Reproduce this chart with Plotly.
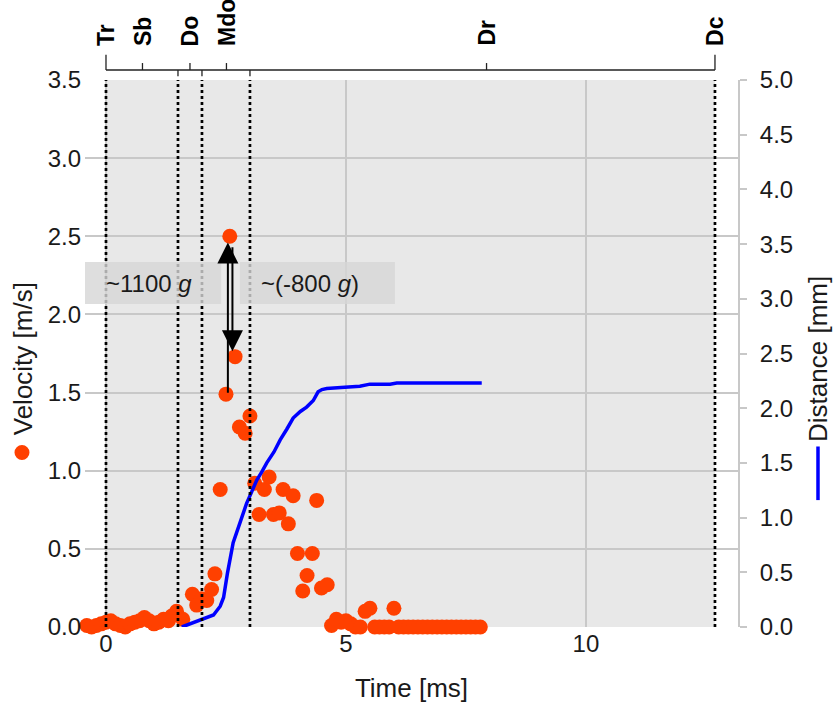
import plotly.graph_objects as go

# ---------------- data ----------------
vel_t = [-0.4, -0.3, -0.2, -0.1, 0.0, 0.1, 0.2, 0.3, 0.4, 0.5, 0.6, 0.7, 0.8, 0.9,
         1.0, 1.1, 1.2, 1.3, 1.37, 1.47, 1.6, 1.8, 1.89, 1.99, 2.1, 2.2, 2.27, 2.38,
         2.5, 2.58, 2.69, 2.78, 2.9, 3.0, 3.1, 3.19, 3.3, 3.4, 3.49, 3.61, 3.69, 3.8,
         3.9, 3.99, 4.1, 4.19, 4.3, 4.39, 4.49, 4.61, 4.7, 4.8, 4.9, 5.0, 5.1, 5.2,
         5.3, 5.4, 5.5, 5.6, 5.7, 5.8, 5.9, 6.0, 6.1, 6.2, 6.3, 6.4, 6.5, 6.6, 6.7,
         6.8, 6.9, 7.0, 7.1, 7.2, 7.3, 7.4, 7.5, 7.6, 7.7, 7.8]
vel_v = [0.01, 0.0, 0.01, 0.02, 0.03, 0.04, 0.02, 0.01, 0.0, 0.02, 0.03, 0.04, 0.06, 0.04,
         0.02, 0.03, 0.05, 0.04, 0.07, 0.10, 0.05, 0.21, 0.14, 0.18, 0.17, 0.24, 0.34, 0.88,
         1.49, 2.50, 1.73, 1.28, 1.24, 1.35, 0.92, 0.72, 0.88, 0.96, 0.72, 0.73, 0.88, 0.66,
         0.84, 0.47, 0.23, 0.33, 0.47, 0.81, 0.25, 0.27, 0.01, 0.05, 0.03, 0.04, 0.02, 0.0,
         0.0, 0.10, 0.12, 0.0, 0.0, 0.0, 0.0, 0.12, 0.0, 0.0, 0.0, 0.0, 0.0, 0.0, 0.0,
         0.0, 0.0, 0.0, 0.0, 0.0, 0.0, 0.0, 0.0, 0.0, 0.0, 0.0]

dist_t = [1.58, 1.75, 1.9, 2.05, 2.24, 2.38, 2.45, 2.53, 2.58, 2.65, 2.72, 2.82, 2.93,
          3.04, 3.14, 3.25, 3.35, 3.5, 3.63, 3.77, 3.9, 4.05, 4.18, 4.32, 4.42, 4.5,
          4.6, 4.9, 5.29, 5.5, 5.92, 6.06, 7.83]
dist_mm = [0.0, 0.03, 0.05, 0.08, 0.11, 0.19, 0.27, 0.49, 0.61, 0.77, 0.86, 1.0, 1.13,
           1.24, 1.34, 1.42, 1.5, 1.6, 1.71, 1.81, 1.91, 1.97, 2.01, 2.07, 2.15, 2.17,
           2.18, 2.19, 2.2, 2.22, 2.22, 2.23, 2.23]

event_names = ["Tr", "Sb", "Do", "Mdo", "Dr", "Dc"]
event_times = [0.0, 0.76, 1.75, 2.51, 7.93, 12.69]
phase_times = [0.0, 1.5, 2.0, 3.0, 12.69]   # dotted vertical lines
x_ticks = [0, 5, 10]

accel_labels = ["~1100 <i>g</i>", "~(-800 <i>g</i>)"]
accel_boxes_x = [(-0.4375, 2.40), (2.79, 6.02)]
accel_box_y = (2.067, 2.335)

VEL_COLOR = "#FF4000"
DIST_COLOR = "#0000FF"
GRID = "#c8c8c8"
FONT = "Liberation Sans, Arial, sans-serif"
TXT = "#1a1a1a"

# ---------------- figure ----------------
fig = go.Figure()
fig.add_trace(go.Scatter(x=vel_t, y=vel_v, mode="markers",
                         marker=dict(color=VEL_COLOR, size=15, line=dict(width=0)),
                         cliponaxis=False, showlegend=False))
fig.add_trace(go.Scatter(x=dist_t, y=dist_mm, mode="lines", yaxis="y2",
                         line=dict(color=DIST_COLOR, width=3.5), showlegend=False))

shapes = []
# grey shaded measuring region
shapes.append(dict(type="rect", xref="x", yref="y", x0=0, x1=event_times[-1], y0=0, y1=3.5,
                   fillcolor="#e8e8e8", line=dict(width=0), layer="below"))
# dotted phase lines
for t in phase_times:
    shapes.append(dict(type="line", xref="x", yref="y", x0=t, x1=t, y0=0, y1=3.5,
                       line=dict(color="black", width=2.7, dash="dot"), layer="above"))
# top event axis
top_y = 1.0183
shapes.append(dict(type="line", xref="x", yref="paper", x0=event_times[0], x1=event_times[-1],
                   y0=top_y, y1=top_y, line=dict(color="#222", width=1.3)))
for name, t in zip(event_names, event_times):
    y1 = 1.046 if name in ("Tr", "Dc") else 1.031
    shapes.append(dict(type="line", xref="x", yref="paper", x0=t, x1=t, y0=top_y, y1=y1,
                       line=dict(color="#222", width=1.3)))
for t in phase_times[1:-1]:
    shapes.append(dict(type="line", xref="x", yref="paper", x0=t, x1=t, y0=top_y, y1=1.007,
                       line=dict(color="#222", width=1.3)))
# acceleration boxes
for (x0, x1) in accel_boxes_x:
    shapes.append(dict(type="rect", xref="x", yref="y", x0=x0, x1=x1,
                       y0=accel_box_y[0], y1=accel_box_y[1],
                       fillcolor="rgba(214,214,214,0.8)", line=dict(width=0), layer="above"))
# legend symbol for velocity
shapes.append(dict(type="circle", xref="paper", yref="paper", xsizemode="pixel", ysizemode="pixel",
                   xanchor=-0.0965, yanchor=0.319, x0=-7.5, x1=7.5, y0=-7.5, y1=7.5,
                   fillcolor=VEL_COLOR, line=dict(width=0)))
# legend symbol for distance
shapes.append(dict(type="line", xref="paper", yref="paper", x0=1.1225, x1=1.1225,
                   y0=0.232, y1=0.33, line=dict(color=DIST_COLOR, width=3.5)))

annotations = []
for name, t in zip(event_names, event_times):
    annotations.append(dict(text="<b>%s</b>" % name, x=t, y=1.0585, xref="x", yref="paper",
                            textangle=-90, xanchor="center", yanchor="bottom", showarrow=False,
                            font=dict(size=23, color="black", family=FONT)))
for lbl, (x0, x1) in zip(accel_labels, accel_boxes_x):
    annotations.append(dict(text=lbl, x=x0 + 0.39, y=sum(accel_box_y) / 2, xref="x", yref="y",
                            xanchor="left", yanchor="middle", showarrow=False,
                            font=dict(size=24, color=TXT, family=FONT)))
# arrows between peak velocity values
i_peak = vel_v.index(max(vel_v))
annotations.append(dict(x=vel_t[i_peak] - 0.04, y=vel_v[i_peak] - 0.04,
                        ax=vel_t[i_peak] - 0.04, ay=vel_v[i_peak - 1],
                        xref="x", yref="y", axref="x", ayref="y", text="", showarrow=True,
                        arrowhead=2, arrowsize=2.1, arrowwidth=2, arrowcolor="black", standoff=0))
annotations.append(dict(x=vel_t[i_peak] + 0.055, y=vel_v[i_peak + 1] + 0.035,
                        ax=vel_t[i_peak] + 0.055, ay=vel_v[i_peak] - 0.06,
                        xref="x", yref="y", axref="x", ayref="y", text="", showarrow=True,
                        arrowhead=2, arrowsize=2.1, arrowwidth=2, arrowcolor="black", standoff=0))
# axis titles
annotations.append(dict(text="Velocity [m/s]", x=-0.0945, y=0.49, xref="paper", yref="paper",
                        textangle=-90, showarrow=False, xanchor="center", yanchor="middle",
                        font=dict(size=26, color=TXT, family=FONT)))
annotations.append(dict(text="Distance [mm]", x=1.1225, y=0.49, xref="paper", yref="paper",
                        textangle=-90, showarrow=False, xanchor="center", yanchor="middle",
                        font=dict(size=26, color=TXT, family=FONT)))

fig.update_layout(
    width=833, height=711,
    margin=dict(l=85, r=95, t=80, b=84, autoexpand=False),
    paper_bgcolor="white", plot_bgcolor="white",
    font=dict(family=FONT, size=24, color=TXT),
    showlegend=False,
    shapes=shapes, annotations=annotations,
    xaxis=dict(range=[-0.4375, 13.17], tickvals=x_ticks, showgrid=True, gridcolor=GRID,
               gridwidth=2, zeroline=False, showline=False, ticks="",
               tickfont=dict(size=24), automargin=False,
               title=dict(text="Time [ms]", font=dict(size=26), standoff=22)),
    yaxis=dict(range=[0, 3.5], dtick=0.5, tickformat=".1f", showgrid=True, gridcolor=GRID,
               gridwidth=2, zeroline=False, showline=False, ticks="", automargin=False,
               ticklabelstandoff=3, tickfont=dict(size=24)),
    yaxis2=dict(range=[0, 5], dtick=0.5, tickformat=".1f", overlaying="y", side="right",
                showgrid=False, zeroline=False, showline=True, linecolor=GRID, linewidth=2,
                ticks="outside", ticklen=7, tickwidth=1.5, tickcolor=GRID,
                ticklabelstandoff=8, automargin=False, tickfont=dict(size=24)),
)

# remove the default 8px page margin so the figure fills the window exactly
fig.write_html("out.html", config={"displayModeBar": False},
               post_script="document.body.style.margin='0px';")
